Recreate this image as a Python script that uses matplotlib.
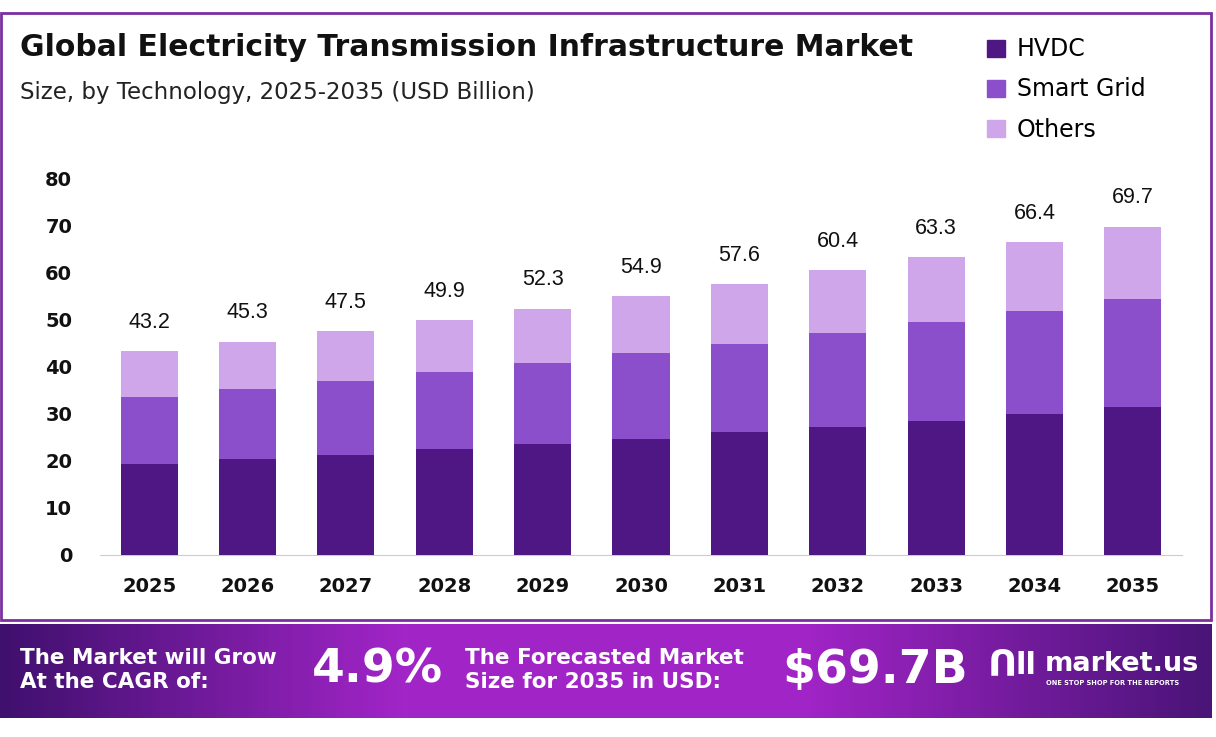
import numpy as np
import matplotlib
matplotlib.use("Agg")
import matplotlib.pyplot as plt
from matplotlib.colors import LinearSegmentedColormap
from matplotlib.patches import Rectangle

years = ["2025", "2026", "2027", "2028", "2029", "2030", "2031", "2032", "2033", "2034", "2035"]
hvdc = [19.4, 20.4, 21.3, 22.4, 23.6, 24.7, 26.0, 27.2, 28.5, 29.9, 31.4]
smart_grid = [14.1, 14.8, 15.6, 16.4, 17.1, 18.2, 18.8, 19.9, 20.9, 21.9, 22.9]
others = [9.7, 10.1, 10.6, 11.1, 11.6, 12.0, 12.8, 13.3, 13.9, 14.6, 15.4]
totals = [43.2, 45.3, 47.5, 49.9, 52.3, 54.9, 57.6, 60.4, 63.3, 66.4, 69.7]
series_names = ["HVDC", "Smart Grid", "Others"]
colors = ["#4f1783", "#8b4fcb", "#d0a6ea"]

W, H = 1216, 737
fig = plt.figure(figsize=(W / 100, H / 100), dpi=100)
fig.patch.set_facecolor("white")

# frame around chart area
fig.add_artist(Rectangle((1 / W, 1 - 620 / H), 1210 / W, 607 / H, transform=fig.transFigure,
                         fill=False, edgecolor="#7b2fa0", linewidth=2))

# footer band with gradient
bax = fig.add_axes([0, 1 - 718 / H, 1212 / W, 94 / H])
cmap = LinearSegmentedColormap.from_list("band", ["#40106e", "#a225c8", "#a124c6", "#4a1478"])
grad = np.linspace(0, 1, 400).reshape(1, -1)
bax.imshow(grad, aspect="auto", cmap=cmap, extent=[0, 1, 0, 1])
bax.set_axis_off()

# main axes
ax = fig.add_axes([100 / W, 1 - 555 / H, 1082 / W, 377 / H])
x = np.arange(len(years))
bw = 0.58
bottom = np.zeros(len(years))
for vals, name, c in zip([hvdc, smart_grid, others], series_names, colors):
    ax.bar(x, vals, bw, bottom=bottom, color=c, label=name, zorder=3)
    bottom += np.array(vals)
for xi, t in zip(x, totals):
    ax.annotate(f"{t}", (xi, t), xytext=(0, 13), textcoords="offset points",
                ha="center", va="bottom", fontsize=15.5, family="Liberation Sans", color="#111111")

ax.set_xlim(-0.5, len(years) - 0.5)
ax.set_ylim(0, 80)
ax.set_yticks(range(0, 81, 10))
ax.set_xticks(x)
ax.set_xticklabels(years)
for s in ["top", "right", "left"]:
    ax.spines[s].set_visible(False)
ax.spines["bottom"].set_color("#cccccc")
ax.tick_params(axis="both", length=0, labelsize=14)
ax.tick_params(axis="x", pad=16)
ax.tick_params(axis="y", pad=20)
for lbl in ax.get_xticklabels() + ax.get_yticklabels():
    lbl.set_fontweight("bold")
    lbl.set_color("#111111")

# title
fig.text(20 / W, 1 - 47 / H, "Global Electricity Transmission Infrastructure Market",
         fontsize=21.5, fontweight="bold", va="center", ha="left", color="#111111")
fig.text(20 / W, 1 - 92 / H, "Size, by Technology, 2025-2035 (USD Billion)",
         fontsize=16.5, va="center", ha="left", color="#222222")

# legend
handles = [Rectangle((0, 0), 1, 1, color=c) for c in colors]
fig.legend(handles, series_names, loc="upper left", bbox_to_anchor=(978 / W, 1 - 28 / H),
           frameon=False, fontsize=17, handlelength=0.75, handleheight=0.75,
           labelspacing=0.68, handletextpad=0.5, borderaxespad=0)

# footer texts
fig.text(20 / W, 1 - 670 / H, "The Market will Grow\nAt the CAGR of:", color="white",
         fontsize=15.5, fontweight="bold", va="center", ha="left", linespacing=1.25)
fig.text(312 / W, 1 - 670 / H, "4.9%", color="white", fontsize=34, fontweight="bold",
         va="center", ha="left")
fig.text(465 / W, 1 - 670 / H, "The Forecasted Market\nSize for 2035 in USD:", color="white",
         fontsize=15.5, fontweight="bold", va="center", ha="left", linespacing=1.25)
fig.text(782 / W, 1 - 670 / H, "$69.7B", color="white", fontsize=34, fontweight="bold",
         va="center", ha="left")
fig.text(1002 / W, 1 - 666 / H, "ᑎ", color="white", fontsize=26, fontweight="bold",
         va="center", ha="center")
fig.text(1026 / W, 1 - 666 / H, "ll", color="white", fontsize=22, fontweight="bold",
         va="center", ha="center")
fig.text(1045 / W, 1 - 664 / H, "market.us", color="white", fontsize=19.5, fontweight="bold",
         va="center", ha="left")
fig.text(1046 / W, 1 - 683 / H, "ONE STOP SHOP FOR THE REPORTS", color="white",
         fontsize=4.8, fontweight="bold", va="center", ha="left")

fig.savefig("out.png", dpi=100)
